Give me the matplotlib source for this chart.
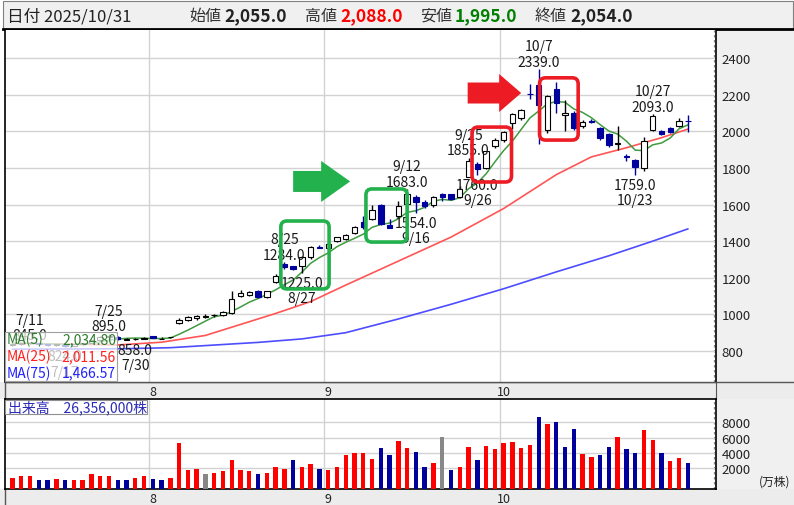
import numpy as np
import pandas as pd
import matplotlib
matplotlib.use("Agg")
from matplotlib import pyplot as plt
from matplotlib.patches import Rectangle, FancyBboxPatch, Polygon

plt.rcParams['font.family'] = ['Noto Sans CJK JP', 'DejaVu Sans']

# ---- data ----
dates = ['7/9', '7/10', '7/11', '7/14', '7/15', '7/16', '7/17', '7/18', '7/22', '7/23',
         '7/24', '7/25', '7/28', '7/29', '7/30', '7/31',
         '8/1', '8/4', '8/5', '8/6', '8/7', '8/8', '8/12', '8/13', '8/14', '8/15',
         '8/18', '8/19', '8/20', '8/21', '8/22', '8/25', '8/26', '8/27', '8/28', '8/29',
         '9/1', '9/2', '9/3', '9/4', '9/5', '9/8', '9/9', '9/10', '9/11', '9/12',
         '9/16', '9/17', '9/18', '9/19', '9/22', '9/24', '9/25', '9/26', '9/29', '9/30',
         '10/1', '10/2', '10/3', '10/6', '10/7', '10/8', '10/9', '10/10', '10/14', '10/15',
         '10/16', '10/17', '10/20', '10/21', '10/22', '10/23', '10/24', '10/27', '10/28',
         '10/29', '10/30', '10/31']
opens = [835, 840, 842, 842, 836, 832, 835, 830, 838, 845, 860, 878, 878, 862, 866, 868,
         880, 866, 874, 955, 968, 978, 985, 995, 995, 1005, 1102, 1105, 1128, 1096, 1178,
         1275, 1262, 1262, 1312, 1368,
         1365, 1400, 1410, 1442, 1505, 1522, 1597, 1488, 1540, 1605, 1640, 1612, 1595, 1655,
         1655, 1640, 1752, 1820, 1800, 1922,
         1950, 2045, 2070, 2205, 2255, 2008, 2232, 2090, 2098, 2030, 2055, 2020, 1985, 1930,
         1866, 1842, 1802, 2008, 2000, 2020, 2030, 2055]
highs = [843, 845, 845, 844, 840, 840, 836, 840, 844, 865, 880, 895, 882, 872, 872, 878,
         884, 876, 878, 978, 990, 998, 1000, 1002, 1018, 1125, 1135, 1130, 1135, 1130, 1220,
         1284, 1266, 1318, 1375, 1378,
         1392, 1425, 1440, 1480, 1540, 1597, 1605, 1520, 1620, 1683, 1650, 1625, 1648, 1665,
         1660, 1700, 1855, 1830, 1895, 1962,
         2000, 2100, 2120, 2258, 2339, 2200, 2270, 2170, 2110, 2060, 2065, 2025, 1990, 2030,
         1878, 1848, 1968, 2093, 2008, 2025, 2070, 2088]
lows = [830, 835, 836, 832, 828, 828, 824, 828, 834, 842, 856, 870, 862, 860, 858, 864,
        870, 864, 870, 950, 962, 972, 980, 988, 990, 1000, 1095, 1098, 1090, 1092, 1172,
        1250, 1245, 1225, 1305, 1360,
        1360, 1398, 1405, 1438, 1465, 1518, 1490, 1470, 1535, 1600, 1554, 1580, 1588, 1620,
        1625, 1635, 1748, 1760, 1795, 1910,
        1940, 2015, 2060, 2178, 1930, 1990, 2100, 2000, 2005, 2020, 2045, 1955, 1915, 1898,
        1840, 1759, 1785, 2000, 1978, 1990, 2025, 1995]
closes = [840, 842, 843, 836, 832, 836, 830, 838, 843, 860, 875, 880, 866, 864, 868, 872,
          870, 868, 876, 972, 985, 992, 992, 996, 1012, 1085, 1118, 1122, 1096, 1126, 1208,
          1258, 1250, 1312, 1368, 1364,
          1385, 1420, 1433, 1475, 1478, 1572, 1496, 1474, 1590, 1655, 1615, 1590, 1640, 1640,
          1630, 1685, 1836, 1796, 1890, 1955,
          1995, 2095, 2116, 2202, 2145, 2195, 2152, 2100, 2018, 2050, 2052, 1962, 1925, 1935,
          1858, 1806, 1946, 2085, 1985, 1995, 2055, 2054]
# volume in 10,000 shares
volumes = [728, 904, 904, 421, 421, 553, 421, 421, 421, 1167, 904, 904, 421, 421, 728, 904,
           553, 421, 728, 5333, 1737, 1869, 1167, 1386, 1561, 3009, 1737, 1561, 1167, 1386,
           2176, 1869, 3009, 2176, 2527, 1869,
           1737, 2176, 3667, 4018, 4018, 3140, 4632, 3667, 5596, 4632, 4150, 2176, 2703, 6079,
           1737, 2176, 4808, 3009, 4939, 4457,
           5290, 5464, 4632, 4983, 8756, 7747, 8098, 4808, 7089, 3798, 3491, 3667, 4808, 6079,
           4457, 4018, 6957, 5640, 4018, 2965, 3316, 2635.6]

# moving averages (bar index, value)
ma25_idx = [0, 6, 12, 17, 22, 26, 30, 34, 38, 44, 50, 56, 62, 66, 70, 74, 77]
ma25_val = [842, 838, 833, 848, 885, 945, 1005, 1070, 1160, 1291, 1422, 1578, 1763, 1860,
            1910, 1965, 2011.56]
ma75_idx = [0, 12, 18, 28, 33, 38, 44, 50, 56, 62, 68, 73, 77]
ma75_val = [810, 812, 818, 847, 866, 900, 975, 1055, 1140, 1232, 1320, 1400, 1466.57]

price_ticks = [800, 1000, 1200, 1400, 1600, 1800, 2000, 2200, 2400]
vol_ticks = [2000, 4000, 6000, 8000]
month_labels = ['8', '9', '10']
month_start = [16, 36, 56]
# peak / trough labels (bar index, kind)
marks = [(2, 'high'), (6, 'low'), (11, 'high'), (14, 'low'), (31, 'high'), (33, 'low'),
         (45, 'high'), (46, 'low'), (52, 'high'), (53, 'low'), (60, 'high'), (71, 'low'),
         (73, 'high')]
# highlight boxes: (bar from, bar to, price low, price high)
green_boxes = [(30.6, 36.1, 1139, 1510), (40.3, 45.0, 1395, 1685)]
red_boxes = [(52.4, 56.9, 1723, 2023), (60.1, 64.5, 1952, 2292)]
# arrows: (bar tail, bar tip, price)
green_arrow = (32.0, 38.5, 1726)
red_arrow = (51.9, 58.0, 2209)

# ---- layout (pixels) ----
W, H = 794, 506
X0, X1 = 5, 716
STEP, FIRST = 8.77, 12.5
UP_FILL, DOWN_C = 'white', '#00009c'

opens = np.array(opens, float)
highs = np.array(highs, float)
lows = np.array(lows, float)
closes = np.array(closes, float)
volumes = np.array(volumes, float)
x = np.arange(len(closes))
ma5 = pd.Series(closes).rolling(5, min_periods=1).mean().values

fig = plt.figure(figsize=(W / 100, H / 100), dpi=100)


def px_axes(x0, y0, x1, y1, **kw):
    return fig.add_axes([x0 / W, 1 - y1 / H, (x1 - x0) / W, (y1 - y0) / H], **kw)


bg = fig.add_axes([0, 0, 1, 1], zorder=-5)
bg.set_xlim(0, W)
bg.set_ylim(H, 0)
bg.axis('off')
bg.add_patch(Rectangle((3, 2), W - 4, 28, fc='#f0f0f0', ec='#808080', lw=0.8))
bg.add_patch(Rectangle((X1, 31), W - X1, 352, fc='#f0f0f0', ec='none'))
bg.add_patch(Rectangle((X1, 400), W - X1, 90, fc='#f0f0f0', ec='none'))
bg.add_patch(Rectangle((0, 383), W, 17, fc='#ececec', ec='none'))
bg.add_patch(Rectangle((0, 490), W, 16, fc='#ececec', ec='none'))
bg.plot([3, W], [30, 30], color='black', lw=2)
bg.plot([X0, W], [383, 383], color='#555555', lw=1)
bg.plot([X0, X0], [383, 400], color='#555555', lw=1)
bg.plot([X0, X0], [490, 506], color='#555555', lw=1)
bg.plot([X1, X1], [383, 400], color='#555555', lw=0.8)

ax = px_axes(X0, 31, X1, 383)
vx = px_axes(X0, 400, X1, 490)
xlim = ((X0 - FIRST) / STEP, (X1 - FIRST) / STEP)
# price = 800 at y=352 px, 0.1831 px per yen
ax.set_xlim(*xlim)
ax.set_ylim(800 + (352 - 383) / 0.1831, 800 + (352 - 31) / 0.1831)
vx.set_xlim(*xlim)
vfloor = (484.2 - 490) / 15.2 * 2000
vx.set_ylim(vfloor, (484.2 - 400) / 15.2 * 2000)

for a in (ax, vx):
    a.set_xticks([])
    a.yaxis.tick_right()
    a.tick_params(axis='y', length=0, pad=4, labelsize=9.5, labelcolor='#222222')
    for s in a.spines.values():
        s.set_color('black')
        s.set_linewidth(1.2)
    for m in month_start:
        a.axvline(m - 0.45, color='#d2d2d2', lw=1, zorder=0)
    a.axvline(xlim[1] - 0.23, color='#8a8a8a', lw=0.9, ls=(0, (2, 2)), zorder=1)
ax.spines['top'].set_visible(False)
ax.spines['bottom'].set_color('#555555')
ax.spines['bottom'].set_linewidth(1)

ax.set_yticks(price_ticks)
ax.grid(axis='y', color='#d2d2d2', lw=1, zorder=0)
vx.set_yticks(vol_ticks)
vx.grid(axis='y', color='#d2d2d2', lw=1, zorder=0)

# moving averages
ax.plot(ma75_idx, ma75_val, color='#4d4dff', lw=1.2, zorder=2)
ax.plot(ma25_idx, ma25_val, color='#ff5555', lw=1.2, zorder=2)
ax.plot(x, ma5, color='#3f9b3f', lw=1.1, zorder=2)

# candles
up = closes >= opens
wick_c = np.where(up, 'black', DOWN_C)
ax.vlines(x, lows, highs, colors=wick_c, lw=1, zorder=3)
ax.bar(x, np.abs(closes - opens), bottom=np.minimum(opens, closes), width=0.62,
       color=np.where(up, UP_FILL, DOWN_C), edgecolor=wick_c, lw=0.8, zorder=4)

# peak / trough labels
for i, kind in marks:
    if kind == 'high':
        v, d1, d2 = highs[i], 5.5, 16.5
    else:
        v, d1, d2 = lows[i], -7, -18
    ax.annotate(f"{v:.1f}", xy=(i, v), xytext=(0, d1), textcoords='offset points',
                ha='center', va='center', fontsize=10, color='#1a1a1a', zorder=6)
    ax.annotate(dates[i], xy=(i, v), xytext=(0, d2), textcoords='offset points',
                ha='center', va='center', fontsize=10, color='#1a1a1a', zorder=6)

# volume bars
chg = np.sign(np.diff(closes, prepend=closes[0] - 1))
vcol = np.where(chg > 0, '#ff0000', np.where(chg < 0, DOWN_C, '#888888'))
vx.bar(x, volumes - vfloor, bottom=vfloor, width=0.5, color=vcol, zorder=3)
vx.text(1.06, 0.09, '(万株)', transform=vx.transAxes, fontsize=8.5, color='#222222',
        va='center', ha='left')

# month labels under both panels
for a in (ax, vx):
    for m, lab in zip(month_start, month_labels):
        a.annotate(lab, xy=(m, 0), xycoords=('data', 'axes fraction'), xytext=(0, -6.5),
                   textcoords='offset points', ha='center', va='center', fontsize=9,
                   color='#222222', annotation_clip=False)

# overlay: header, legend boxes, highlight boxes, arrows
ov = fig.add_axes([0, 0, 1, 1], zorder=10)
ov.set_xlim(0, W)
ov.set_ylim(H, 0)
ov.axis('off')
ov.patch.set_alpha(0)


def to_px(i, p):
    return ov.transData.inverted().transform(ax.transData.transform((i, p)))


hy = 16.5
ov.text(7, hy, '日付 2025/10/31', fontsize=12, color='#222222', va='center')
head = [('始値', opens[-1], 189, '#222222'), ('高値', highs[-1], 305, '#ff0000'),
        ('安値', lows[-1], 420, '#008000'), ('終値', closes[-1], 535, '#222222')]
for name, val, hx, col in head:
    ov.text(hx, hy, name, fontsize=11.5, color='#333333', va='center')
    ov.text(hx + 35, hy, f"{val:,.1f}", fontsize=12.5, color=col, va='center',
            fontweight='bold')

ov.add_patch(Rectangle((X0, 333), 112, 49, fc=(1, 1, 1, 0.72), ec='#a0a0a0', lw=0.8))
legend_rows = [('MA(5)', ma5[-1], '#2e7d2e'), ('MA(25)', ma25_val[-1], '#ff2020'),
               ('MA(75)', ma75_val[-1], '#2020ff')]
for r, (name, val, col) in enumerate(legend_rows):
    yy = 340 + r * 16.8
    ov.text(7, yy, name, fontsize=10, color=col, va='center')
    ov.text(116, yy, f"{val:,.2f}", fontsize=10, color=col, va='center', ha='right')

ov.add_patch(Rectangle((X0, 400.5), 142, 14.5, fc='white', ec='#909090', lw=0.8))
ov.text(8, 408, f"出来高　{volumes[-1] * 10000:,.0f}株", fontsize=10, color='#2a2ab8',
        va='center')

for boxes, col in ((green_boxes, '#22b14c'), (red_boxes, '#ed1c24')):
    for i0, i1, p0, p1 in boxes:
        (ax0, ay0), (ax1, ay1) = to_px(i0, p1), to_px(i1, p0)
        ov.add_patch(FancyBboxPatch((ax0, ay0), ax1 - ax0, ay1 - ay0,
                                    boxstyle='round,pad=0,rounding_size=6',
                                    fc='none', ec=col, lw=2.6))

for (i0, i1, p), col, half_s, half_h, head_l in ((green_arrow, '#22b14c', 10.5, 20.5, 29),
                                                 (red_arrow, '#ed1c24', 10.5, 19, 22)):
    (tx, ty), (hx2, _) = to_px(i0, p), to_px(i1, p)
    bx = hx2 - head_l
    pts = [(tx, ty - half_s), (bx, ty - half_s), (bx, ty - half_h), (hx2, ty),
           (bx, ty + half_h), (bx, ty + half_s), (tx, ty + half_s)]
    ov.add_patch(Polygon(pts, closed=True, fc=col, ec='none'))

fig.savefig('out.png', dpi=100)
